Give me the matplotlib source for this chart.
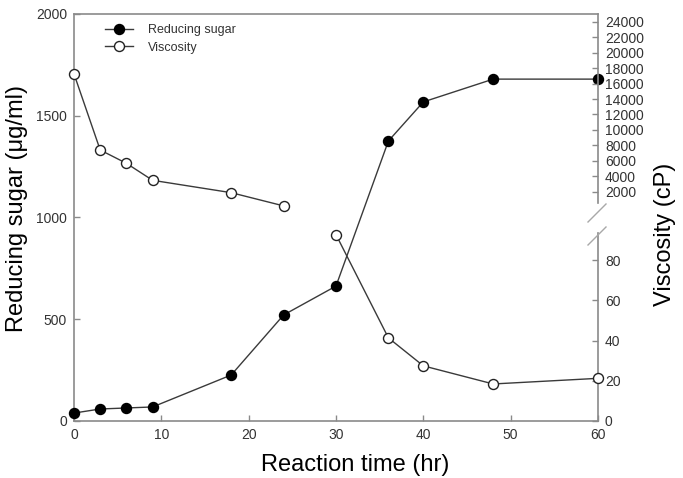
import matplotlib
matplotlib.use("Agg")
import matplotlib.pyplot as plt
from matplotlib.lines import Line2D

plt.rcParams['font.family'] = ['Liberation Sans', 'DejaVu Sans']

# Data
time_sugar = [0, 3, 6, 9, 18, 24, 30, 36, 40, 48, 60]
sugar = [39, 59, 64, 69, 226, 521, 663, 1376, 1568, 1680, 1680]

time_visc_high = [0, 3, 6, 9, 18, 24]
visc_high = [17250, 7400, 5680, 3480, 1880, 170]

time_visc_low = [30, 36, 40, 48, 60]
visc_low = [92.6, 41.3, 27.4, 18.4, 21.2]

x_ticks = [0, 10, 20, 30, 40, 50, 60]
sugar_ticks = [0, 500, 1000, 1500, 2000]
visc_low_ticks = [0, 20, 40, 60, 80]
visc_high_ticks = list(range(2000, 24001, 2000))

W_px, H_px = 683, 478
fig = plt.figure(figsize=(W_px / 100, H_px / 100), dpi=100)

def fx(px):
    return px / W_px

def fy(py):
    return (H_px - py) / H_px

left, right, top, bottom = 74, 598, 14, 421
lo_top = 233
up_bottom = 207.2

spine_c = '#8a8a8a'
text_c = '#333333'
line_c = '#3a3a3a'

ax = fig.add_axes([fx(left), fy(bottom), fx(right) - fx(left), fy(top) - fy(bottom)])
ax_lo = fig.add_axes([fx(left), fy(bottom), fx(right) - fx(left), fy(lo_top) - fy(bottom)])
ax_up = fig.add_axes([fx(left), fy(up_bottom), fx(right) - fx(left), fy(top) - fy(up_bottom)])

for a in (ax_lo, ax_up):
    a.set_facecolor('none')
    for s in ('left', 'top', 'bottom'):
        a.spines[s].set_visible(False)
    a.spines['right'].set_color(spine_c)
    a.spines['right'].set_linewidth(1.2)
    a.set_xlim(0, 60)
    a.set_xticks([])
    a.yaxis.tick_right()
    a.tick_params(axis='y', direction='in', length=4, width=1, color=spine_c,
                  labelsize=10, labelcolor=text_c, pad=5)

ax.spines['right'].set_visible(False)
for s in ('left', 'top', 'bottom'):
    ax.spines[s].set_color(spine_c)
    ax.spines[s].set_linewidth(1.2)
ax.set_xlim(0, 60)
ax.set_ylim(0, 2000)
ax.set_xticks(x_ticks)
ax.set_yticks(sugar_ticks)
ax.tick_params(direction='in', length=4, width=1, color=spine_c,
               labelsize=10, labelcolor=text_c, pad=5)
ax.tick_params(axis='y', right=False)

ax_lo.set_ylim(0, (bottom - lo_top) / ((bottom - 260) / 80))
ax_lo.set_yticks(visc_low_ticks)
ax_up.set_ylim(0, 25000)
ax_up.set_yticks(visc_high_ticks)
ax_up.spines['right'].set_bounds(500, 25000)

mk = dict(markersize=7.2, markeredgewidth=1.0, clip_on=False, linewidth=1.0, color=line_c)
ax.plot(time_sugar, sugar, marker='o', markerfacecolor='black', markeredgecolor='black', zorder=5, **mk)
ax_lo.plot(time_visc_low, visc_low, marker='o', markerfacecolor='white', markeredgecolor='#222222', zorder=5, **mk)
ax_up.plot(time_visc_high, visc_high, marker='o', markerfacecolor='white', markeredgecolor='#222222', zorder=5, **mk)

# Axis-break marks
for yc in (213, 236):
    fig.add_artist(Line2D([fx(588), fx(606)], [fy(yc + 9), fy(yc - 9)],
                          color='#a8a8a8', linewidth=1.0))

handles = [
    Line2D([], [], marker='o', color=line_c, markerfacecolor='black', markeredgecolor='black',
           markersize=7.2, linewidth=1.0),
    Line2D([], [], marker='o', color=line_c, markerfacecolor='white', markeredgecolor='#222222',
           markersize=7.2, linewidth=1.0),
]
ax.legend(handles, ['Reducing sugar', 'Viscosity'], loc='upper left',
          bbox_to_anchor=((105 - left) / (right - left), (bottom - 24) / (bottom - top)),
          frameon=False, fontsize=9, handlelength=2.2, handletextpad=1.2,
          labelspacing=0.45, borderpad=0, borderaxespad=0, labelcolor=text_c)

fs_label = 17
fig.text(fx(355), fy(465), 'Reaction time (hr)', ha='center', va='center',
         fontsize=fs_label, color='black')
fig.text(fx(17), fy(208), 'Reducing sugar (\u03bcg/ml)', ha='center', va='center',
         rotation=90, fontsize=fs_label, color='black')
fig.text(fx(665), fy(234), 'Viscosity (cP)', ha='center', va='center',
         rotation=90, fontsize=fs_label, color='black')

fig.savefig('out.png', dpi=100)
